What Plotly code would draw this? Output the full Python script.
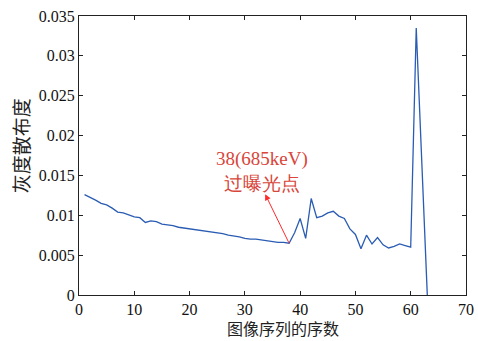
import plotly.graph_objects as go

# Grey-level dispersion of each image in the sequence
frame_index = list(range(1, 64))
dispersion = [
    0.0126, 0.0123, 0.0119, 0.0115, 0.0113, 0.0109, 0.0104, 0.0103, 0.0100, 0.0098,
    0.0097, 0.0091, 0.0093, 0.0092, 0.0089, 0.0088, 0.0087, 0.0085, 0.0084, 0.0083,
    0.0082, 0.0081, 0.0080, 0.0079, 0.0078, 0.0077, 0.0075, 0.0074, 0.0073, 0.0071,
    0.0070, 0.0070, 0.0069, 0.0068, 0.0067, 0.0066, 0.0066, 0.0065, 0.0078, 0.0096,
    0.0071, 0.0121, 0.0097, 0.0099, 0.0103, 0.0105, 0.0099, 0.0096, 0.0083, 0.0076,
    0.0058, 0.0075, 0.0064, 0.0072, 0.0063, 0.0059, 0.0061, 0.0064, 0.0062, 0.0060,
    0.0335, 0.0165, 0.0000,
]

x_ticks = [0, 10, 20, 30, 40, 50, 60, 70]
y_ticks = [0, 0.005, 0.01, 0.015, 0.02, 0.025, 0.03, 0.035]
y_tick_text = ["0", "0.005", "0.01", "0.015", "0.02", "0.025", "0.03", "0.035"]

x_title = "图像序列的序数"
y_title = "灰度散布度"

marked_index = 38
marked_label = "38(685keV)<br>过曝光点"

serif = "Liberation Serif"
cjk = "Noto Sans CJK SC"

fig = go.Figure()
fig.add_trace(go.Scatter(
    x=frame_index, y=dispersion, mode="lines",
    line=dict(color="#2a5cb3", width=1.3),
    showlegend=False, hoverinfo="skip",
))

marked_value = dispersion[frame_index.index(marked_index)]

# Label of the over-exposed frame
fig.add_annotation(
    x=33.1, y=0.0155, xref="x", yref="y",
    text=marked_label, showarrow=False,
    font=dict(family=serif, size=19, color="#d8453a"),
    align="center", xanchor="center", yanchor="middle",
)
# Arrow from the over-exposed point up to its label
fig.add_annotation(
    x=marked_index, y=marked_value,
    ax=33.5, ay=0.0129, axref="x", ayref="y",
    text=" ", font=dict(size=1), showarrow=True,
    arrowside="start", startarrowhead=2, startarrowsize=1.2, arrowwidth=1,
    arrowcolor="#ff2a2a", standoff=0, startstandoff=0,
)

# Axis titles placed as annotations so they sit clear of the tick labels
fig.add_annotation(
    xref="paper", yref="paper", x=0.527, y=-0.165,
    xanchor="center", yanchor="bottom", showarrow=False, borderpad=0,
    text=x_title, font=dict(family=cjk, size=16, color="#222"),
)
fig.add_annotation(
    xref="paper", yref="paper", x=-0.152, y=0.534,
    xanchor="center", yanchor="middle", showarrow=False, textangle=-90,
    text=y_title, font=dict(family=cjk, size=19, color="#222"),
)

axis_common = dict(
    showgrid=False, zeroline=False, showline=True, mirror="allticks",
    linecolor="#222", linewidth=1.2, ticks="inside", ticklen=4,
    tickcolor="#222", automargin=False,
    tickfont=dict(family=serif, size=16, color="#111"),
)

fig.update_xaxes(range=[0, 70], tickvals=x_ticks, **axis_common)
fig.update_yaxes(range=[0, 0.035], tickvals=y_ticks, ticktext=y_tick_text, **axis_common)

fig.update_layout(
    width=478, height=341,
    margin=dict(l=79, r=12, t=16, b=46),
    font=dict(family=serif, size=16, color="#111"),
    paper_bgcolor="white", plot_bgcolor="white",
)

fig.write_html("out.html")
